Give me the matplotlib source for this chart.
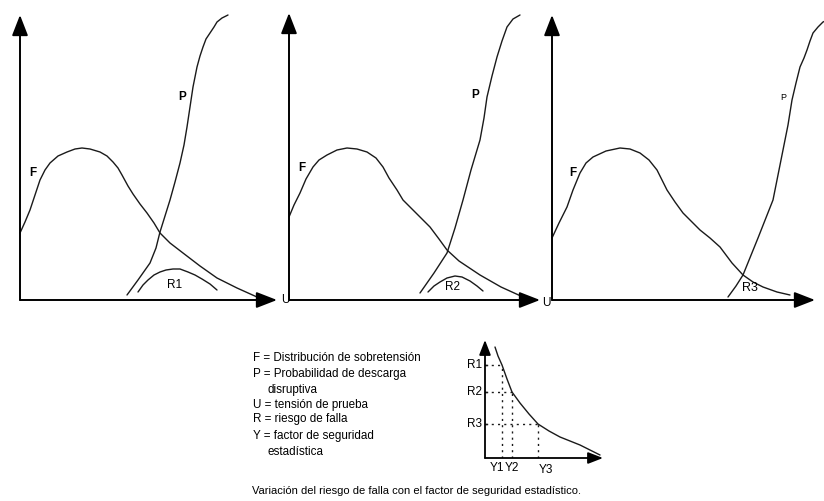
import matplotlib
matplotlib.use("Agg")
import matplotlib.pyplot as plt

plt.rcParams['font.family'] = ['Liberation Sans', 'DejaVu Sans']

# ---------------- data (arbitrary units) ----------------
# Panel 1
F1_x = [0, 5, 10, 15, 20, 25, 30, 38, 47, 55, 62, 70, 80, 87, 93, 98, 102, 108,
        113, 120, 127, 134, 140, 150, 163, 180, 197, 217, 237]
F1_y = [67, 78, 90, 105, 120, 130, 137, 144, 148, 151, 152, 151, 148, 144, 138,
        132, 125, 114, 106, 96, 87, 77, 67, 57, 47, 34, 22, 12, 3]
P1_x = [107, 118, 130, 136, 140, 145, 150, 155, 160, 164, 167, 170, 173, 175,
        177, 180, 183, 186, 190, 194, 197, 202, 208]
P1_y = [5, 20, 37, 52, 68, 84, 100, 118, 137, 155, 173, 193, 213, 223, 233,
        244, 253, 261, 267, 273, 278, 282, 285]
R1_x = [118, 123, 128, 134, 140, 146, 153, 160, 168, 175, 182, 190, 197]
R1_y = [8, 15, 20, 25, 28, 30, 31, 31, 28, 25, 21, 16, 10]

# Panel 2
F2_x = [0, 5, 11, 17, 24, 30, 38, 48, 58, 68, 78, 87, 94, 100, 108, 114, 124,
        132, 141, 150, 158, 170, 191, 212, 234]
F2_y = [83, 95, 107, 121, 133, 140, 145, 150, 152, 151, 148, 142, 133, 122, 110,
        100, 90, 82, 73, 61, 50, 39, 25, 13, 3]
P2_x = [131, 145, 158, 166, 174, 182, 191, 195, 198, 203, 208, 213, 218, 224, 231]
P2_y = [7, 27, 47, 72, 100, 130, 160, 182, 203, 224, 243, 259, 273, 281, 285]
R2_x = [139, 145, 151, 158, 166, 173, 181, 188, 194]
R2_y = [8, 14, 18, 22, 24, 23, 19, 14, 9]

# Panel 3
F3_x = [0, 7, 15, 21, 28, 34, 41, 54, 68, 78, 88, 97, 105, 110, 115, 123, 131,
        140, 148, 158, 168, 180, 191, 201, 211, 225, 238]
F3_y = [62, 77, 93, 110, 127, 137, 143, 149, 152, 151, 147, 140, 130, 120, 110,
        98, 87, 78, 70, 62, 53, 37, 25, 18, 13, 8, 5]
P3_x = [176, 184, 191, 206, 221, 226, 231, 236, 240, 244, 248, 252, 255, 258,
        261, 266, 271, 278, 285]
P3_y = [3, 14, 25, 62, 100, 125, 150, 175, 200, 217, 233, 242, 250, 259, 267,
        273, 278, 281, 283]

# Mini chart: risk vs. statistical safety factor
Rv_x = [10, 13, 17, 22, 27, 35, 44, 53, 64, 75, 85, 95, 105, 115]
Rv_y = [111, 102, 93, 79, 66, 55, 44, 34, 27, 21, 17, 13, 8, 3]
R_levels = [93, 66, 34]
R_labels = ['R1', 'R2', 'R3']
Y_levels = [17, 27, 53]
Y_labels = ['Y1', 'Y2', 'Y3']

legend_lines = ['F = Distribución de sobretensión',
                'P = Probabilidad de descarga',
                'disruptiva',
                'U = tensión de prueba',
                'R = riesgo de falla',
                'Y = factor de seguridad',
                'estadística']
caption = 'Variación del riesgo de falla con el factor de seguridad estadístico.'

# ---------------- figure ----------------
W, H = 824, 501
fig = plt.figure(figsize=(W / 100, H / 100), dpi=100)
ink = '#1a1a1a'


def px_axes(x0, y0, w, h):
    """axes whose origin is at pixel (x0, y0) (y downward), size w x h in px"""
    ax = fig.add_axes([x0 / W, (H - y0) / H, w / W, h / H])
    ax.set_xlim(0, w)
    ax.set_ylim(0, h)
    ax.axis('off')
    return ax


def axes_arrows(ax, xtip, ytip, ms=14, lw=1.4):
    kw = dict(arrowstyle='-|>,head_length=0.9,head_width=0.35', lw=lw,
              color='black', mutation_scale=ms, shrinkA=0, shrinkB=0)
    ax.annotate('', xy=(xtip, 0), xytext=(0, 0), arrowprops=kw, annotation_clip=False)
    ax.annotate('', xy=(0, ytip), xytext=(0, 0), arrowprops=kw, annotation_clip=False)


def line(ax, x, y, lw=1.0):
    ax.plot(x, y, color=ink, lw=lw, solid_capstyle='round',
            solid_joinstyle='round', clip_on=False)


# Panel 1
a1 = px_axes(20, 300, 260, 290)
axes_arrows(a1, 257, 285)
line(a1, F1_x, F1_y)
line(a1, P1_x, P1_y)
line(a1, R1_x, R1_y)
a1.text(13, 127, 'F', fontsize=8.5, fontweight='bold', ha='center', va='center')
a1.text(162, 203, 'P', fontsize=8.5, fontweight='bold', ha='center', va='center')
a1.text(155, 15, 'R1', fontsize=8.5, ha='center', va='center')
a1.text(261, 0, 'U', fontsize=8.5, ha='left', va='center')

# Panel 2
a2 = px_axes(289, 300, 260, 290)
axes_arrows(a2, 251, 287)
line(a2, F2_x, F2_y)
line(a2, P2_x, P2_y)
line(a2, R2_x, R2_y)
a2.text(13, 132, 'F', fontsize=8.5, fontweight='bold', ha='center', va='center')
a2.text(186, 205, 'P', fontsize=8.5, fontweight='bold', ha='center', va='center')
a2.text(163, 13, 'R2', fontsize=8.5, ha='center', va='center')
a2.text(253, -3, 'U', fontsize=8.5, ha='left', va='center')

# Panel 3
a3 = px_axes(552, 300, 272, 290)
axes_arrows(a3, 263, 285)
line(a3, F3_x, F3_y)
line(a3, P3_x, P3_y)
a3.text(21, 127, 'F', fontsize=8.5, fontweight='bold', ha='center', va='center')
a3.text(231, 203, 'P', fontsize=6.5, ha='center', va='center')
a3.text(198, 12, 'R3', fontsize=9, ha='center', va='center')

# Mini chart
m = px_axes(485, 458, 125, 125)
axes_arrows(m, 118, 118, ms=10, lw=1.3)
line(m, Rv_x, Rv_y)
for r, lab, yv in zip(R_levels, R_labels, Y_levels):
    m.plot([0, yv], [r, r], color=ink, lw=1.0, ls=(0, (1.5, 3)))
    m.plot([yv, yv], [0, r], color=ink, lw=1.0, ls=(0, (1.5, 3)))
    m.plot([-2, 2], [r, r], color=ink, lw=1.0)
    m.text(-3, r, lab, fontsize=8.5, ha='right', va='center')
m.text(Y_levels[0] - 5, -10, Y_labels[0], fontsize=8.5, ha='center', va='center')
m.text(Y_levels[1], -10, Y_labels[1], fontsize=8.5, ha='center', va='center')
m.text(Y_levels[2] + 8, -12, Y_labels[2], fontsize=8.5, ha='center', va='center')

# Legend text
lg_y = [358, 374, 390, 405, 419, 436, 452]
lg_x = [253, 253, 268, 253, 253, 253, 268]
for t, xx, yy in zip(legend_lines, lg_x, lg_y):
    fig.text(xx / W, 1 - yy / H, t, fontsize=8.4, ha='left', va='center')

fig.text(416 / W, 1 - 491 / H, caption, fontsize=8, ha='center', va='center')

fig.savefig('out.png', dpi=100, facecolor='white')
